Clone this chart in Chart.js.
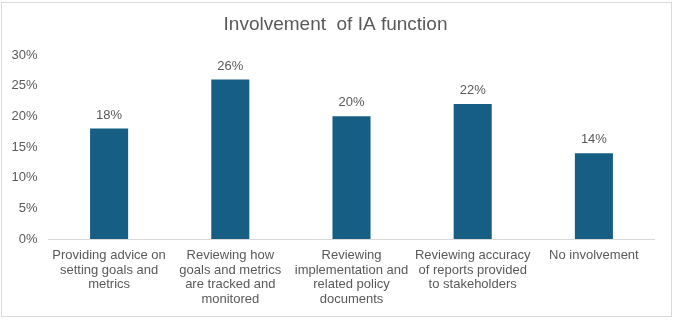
<!DOCTYPE html>
<html>
<head>
<meta charset="utf-8">
<title>Involvement of IA function</title>
<script src="https://cdn.jsdelivr.net/npm/chart.js@4/dist/chart.umd.min.js"></script>
<style>
  html, body { margin: 0; padding: 0; background: #fff; }
  #wrap { width: 677px; height: 322px; position: relative; }
</style>
</head>
<body>
<div id="wrap"><canvas id="chart" width="677" height="322"></canvas></div>
<script>
// Chart data
const categories = [
  ["Providing advice on", "setting goals and", "metrics"],
  ["Reviewing how", "goals and metrics", "are tracked and", "monitored"],
  ["Reviewing", "implementation and", "related policy", "documents"],
  ["Reviewing accuracy", "of reports provided", "to stakeholders"],
  ["No involvement"],
];
const involvement = [18, 26, 20, 22, 14];
const yTicks = [0, 5, 10, 15, 20, 25, 30];

const textColor = "#595959";
const barColor = "#165E83";
const fontFamily = "'Liberation Sans', Arial, sans-serif";

// Outer frame like the Excel chart area
const framePlugin = {
  id: "frame",
  afterDraw(chart) {
    const ctx = chart.ctx;
    ctx.save();
    ctx.strokeStyle = "#d9d9d9";
    ctx.lineWidth = 1;
    ctx.strokeRect(1.5, 2.5, 670, 314);
    ctx.restore();
  },
};

// Value labels above each bar
const valueLabels = {
  id: "valueLabels",
  afterDatasetsDraw(chart) {
    const ctx = chart.ctx;
    ctx.save();
    ctx.font = "13px " + fontFamily;
    ctx.fillStyle = textColor;
    ctx.textAlign = "center";
    ctx.textBaseline = "bottom";
    chart.getDatasetMeta(0).data.forEach(function (bar, i) {
      ctx.fillText(involvement[i] + "%", bar.x, bar.y - 7);
    });
    ctx.restore();
  },
};

new Chart(document.getElementById("chart"), {
  type: "bar",
  data: {
    labels: categories,
    datasets: [
      {
        data: involvement,
        backgroundColor: barColor,
        barPercentage: 0.314,
        categoryPercentage: 1,
      },
    ],
  },
  options: {
    responsive: false,
    animation: false,
    layout: { padding: { left: 0, right: 6, top: 0, bottom: 0 } },
    plugins: {
      legend: { display: false },
      tooltip: { enabled: false },
      title: {
        display: true,
        text: "Involvement  of IA function",
        color: textColor,
        font: { family: fontFamily, size: 19, weight: "normal" },
        padding: { top: 13, bottom: 19.2 },
      },
    },
    scales: {
      x: {
        grid: { display: false, drawTicks: false },
        border: { display: true, color: "#d9d9d9", width: 1 },
        ticks: {
          color: textColor,
          font: { family: fontFamily, size: 13, lineHeight: 1.13 },
          padding: 9,
          maxRotation: 0,
          autoSkip: false,
        },
        afterFit(scale) { scale.height = 83; },
      },
      y: {
        min: 0,
        max: 30,
        afterBuildTicks(scale) {
          scale.ticks = yTicks.map(function (v) { return { value: v }; });
        },
        grid: { display: false, drawTicks: false },
        border: { display: false },
        ticks: {
          color: textColor,
          font: { family: fontFamily, size: 13 },
          padding: 11,
          callback: function (v) { return v + "%"; },
        },
        afterFit(scale) { scale.width = 48.5; },
      },
      // empty right-hand spacer so the title centres on the whole frame
      yRight: {
        position: "right",
        min: 0,
        max: 30,
        grid: { display: false, drawTicks: false },
        border: { display: false },
        ticks: { display: false },
        afterFit(scale) { scale.width = 16.5; },
      },
    },
  },
  plugins: [valueLabels, framePlugin],
});
</script>
</body>
</html>
